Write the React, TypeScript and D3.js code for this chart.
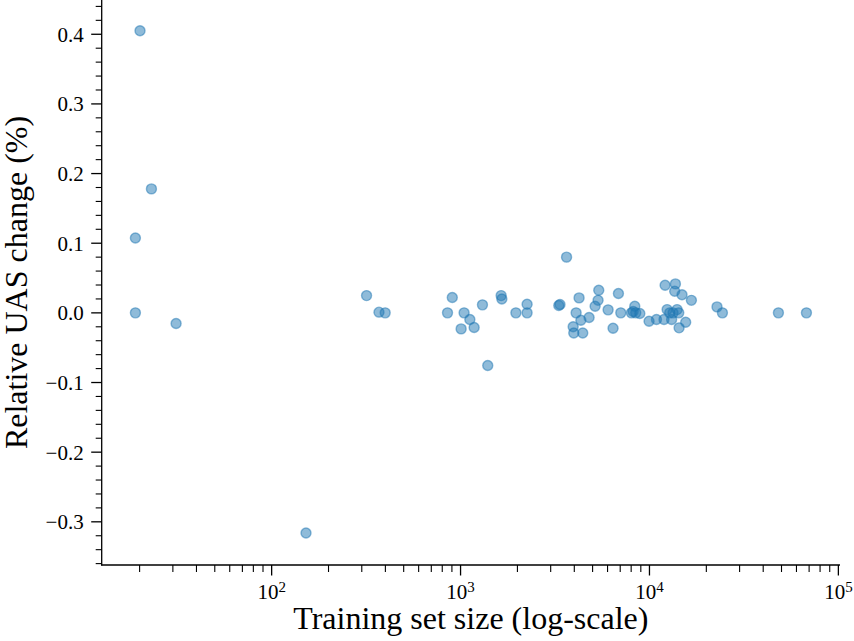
import { useEffect } from 'react'
import * as d3 from 'd3'

// training set sizes (x) and relative UAS change in % (y)
const sizes = [
  20.1, 23.1, 19.0, 19.0, 31.2, 152, 318, 370, 399, 853, 904, 1044, 1120, 1007, 1180, 1306,
  1393, 1640, 1654, 1963, 2250, 2250, 3311, 3360, 3640, 4240, 4090, 3945, 3975, 4434, 4335,
  4790, 5155, 5344, 5390, 6040, 6415, 6850, 7050, 8030, 8360, 8460, 8890, 8200, 9950, 10890,
  11940, 12100, 12400, 12800, 13100, 13330, 13720, 13600, 14000, 14290, 14350, 14870, 15550,
  16670, 22780, 24330, 48150, 67750,
]
const changes = [
  0.405, 0.178, 0.1075, 0.0, -0.0153, -0.316, 0.0248, 0.001, 0.0, 0.0, 0.022, 0.0, -0.0096,
  -0.023, -0.021, 0.0115, -0.0756, 0.0248, 0.02, 0.0, 0.0123, 0.0, 0.0105, 0.012, 0.08, 0.0215,
  0.0, -0.02, -0.029, -0.029, -0.0106, -0.0067, 0.0095, 0.018, 0.0325, 0.0043, -0.022, 0.0277,
  0.0, 0.0, 0.0095, 0.0, -0.001, 0.002, -0.012, -0.0096, -0.0096, 0.0396, 0.0047, 0.0, -0.0096,
  0.0, 0.0416, 0.031, 0.0047, 0.0, -0.0215, 0.026, -0.0134, 0.018, 0.0086, 0.0, 0.0, 0.0,
]
const yTicks = [-0.3, -0.2, -0.1, 0.0, 0.1, 0.2, 0.3, 0.4]
const xDecades = [2, 3, 4, 5]

const W = 854
const H = 641
const left = 101.7
const right = 840
const top = 0
const bottom = 565
const font = "'Liberation Serif', 'DejaVu Serif', serif"
const col = '#1f77b4'

export default function App() {
  useEffect(() => {
    document.body.style.margin = '0'
  }, [])

  const x = d3.scaleLog().domain([12.6, 102000]).range([left, right])
  const y = d3.scaleLinear().domain([-0.362, 0.4492]).range([bottom, top])

  // minor ticks
  const xMinor: number[] = []
  for (let e = 1; e <= 4; e++) for (let m = 2; m <= 9; m++) xMinor.push(m * Math.pow(10, e))
  const yMinor = d3.range(-36, 46, 2).map(v => v / 100).filter(v => Math.abs(v * 10 - Math.round(v * 10)) > 1e-6)

  const fmt = (v: number) => (v < 0 ? '\u2212' : '') + Math.abs(v).toFixed(1)
  const txt = { fontFamily: font }

  return (
    <svg width={W} height={H} style={{ position: 'absolute', left: 0, top: 0, background: '#fff' }}>
      {/* points */}
      {sizes.map((s, i) => (
        <circle key={i} cx={x(s)} cy={y(changes[i])} r={5}
          fill={col} fillOpacity={0.5} stroke={col} strokeOpacity={0.5} strokeWidth={1.4} />
      ))}

      {/* y axis */}
      <line x1={left} x2={left} y1={top} y2={bottom + 0.6} stroke="#000" strokeWidth={1.3} />
      {yMinor.filter(v => y(v) >= top && y(v) <= bottom).map((v, i) => (
        <line key={'ym' + i} x1={left - 6} x2={left} y1={y(v)} y2={y(v)} stroke="#000" strokeWidth={1.1} />
      ))}
      {yTicks.map((v, i) => (
        <g key={'yt' + i}>
          <line x1={left - 10.5} x2={left} y1={y(v)} y2={y(v)} stroke="#000" strokeWidth={1.3} />
          <text style={txt} x={left - 18} y={y(v)} dy="0.35em" textAnchor="end" fontSize={21}>{fmt(v)}</text>
        </g>
      ))}

      {/* x axis */}
      <line x1={left - 0.6} x2={right} y1={bottom} y2={bottom} stroke="#000" strokeWidth={1.3} />
      {xMinor.filter(v => x(v) >= left && x(v) <= right).map((v, i) => (
        <line key={'xm' + i} x1={x(v)} x2={x(v)} y1={bottom} y2={bottom + 7} stroke="#000" strokeWidth={1.1} />
      ))}
      {xDecades.map(e => {
        const px = x(Math.pow(10, e))
        return (
          <g key={'xt' + e}>
            <line x1={px} x2={px} y1={bottom} y2={bottom + 10.5} stroke="#000" strokeWidth={1.3} />
            <text style={txt} x={px} y={599} textAnchor="middle" fontSize={21}>
              10<tspan dy={-7} fontSize={15}>{e}</tspan>
            </text>
          </g>
        )
      })}

      {/* axis labels */}
      <text style={txt} x={(left + right) / 2} y={629} textAnchor="middle" fontSize={32}>Training set size (log-scale)</text>
      <text style={txt} transform={`translate(27,${(top + bottom) / 2}) rotate(-90)`} textAnchor="middle" fontSize={32}>
        Relative UAS change (%)
      </text>
    </svg>
  )
}
